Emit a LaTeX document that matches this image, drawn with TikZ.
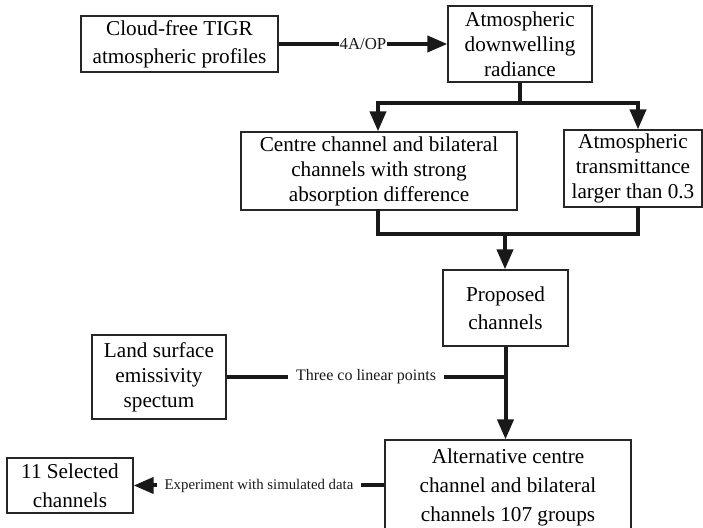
\documentclass[tikz,border=0pt]{standalone}
\usepackage{fontspec}
\setmainfont{Liberation Serif}
\usetikzlibrary{arrows.meta,positioning}
\tikzset{
  box/.style={draw=black!85,line width=0.65pt,fill=white,align=center,inner sep=0pt,font=\fontsize{10.6}{12.5}\selectfont},
  ln/.style={line width=2pt,black!90},
  bar/.style={ln,line cap=rect},
  ar/.style={ln,-{Triangle[length=10pt,width=8pt]}},
  lbl/.style={fill=white,inner xsep=4pt,inner ysep=1pt,font=\fontsize{8}{9}\selectfont}
}
\begin{document}
\begin{tikzpicture}[x=0.5pt,y=-0.5pt]
\clip (0,0) rectangle (703,528);
\node[box,minimum width=98.5pt,minimum height=28pt,font=\fontsize{10.6}{14}\selectfont] (prof) at (179.5,44) {Cloud-free TIGR\\atmospheric profiles};
\node[box,minimum width=72pt,minimum height=38pt] (rad) at (520,44) {Atmospheric\\downwelling\\radiance};
\node[box,minimum width=138pt,minimum height=39pt] (cen) at (379,171) {Centre channel and bilateral\\channels with strong\\absorption difference};
\node[box,minimum width=69pt,minimum height=38.5pt] (trans) at (633,168.5) {Atmospheric\\transmittance\\larger than 0.3};
\node[box,minimum width=62.5pt,minimum height=38pt,font=\fontsize{10.6}{14}\selectfont] (prop) at (505.5,308) {Proposed\\channels};
\node[box,minimum width=67pt,minimum height=42pt] (land) at (159,377) {Land surface\\emissivity\\spectum};
\node[box,minimum width=123pt,minimum height=47pt,font=\fontsize{10.6}{14.5}\selectfont] (alt) at (508,487) {Alternative centre\\channel and bilateral\\ channels 107 groups};
\node[box,minimum width=63pt,minimum height=27.5pt,font=\fontsize{10.6}{14.5}\selectfont] (sel) at (70,485.5) {11 Selected\\channels};
% split and merge points
\coordinate (bl) at (378,103);
\coordinate (br) at (638,103);
\coordinate (ml) at (378,234);
\coordinate (mr) at (638,234);
\coordinate (mm) at (505,234);
\coordinate (jn) at (prop.south |- land.east);
\draw[ar] (prof.east) -- node[lbl,inner xsep=0.5pt,font=\fontsize{8.4}{9}\selectfont] {4A/OP} (rad.west);
\draw[ln] (rad.south) -- (rad.south |- bl);
\draw[bar] (bl) -- (br);
\draw[ar] (bl) -- (bl |- cen.north);
\draw[ar] (br) -- (br |- trans.north);
\draw[bar] (ml |- cen.south) -- (ml) -- (mr) -- (mr |- trans.south);
\draw[ar] (mm) -- (mm |- prop.north);
\draw[ar] (prop.south) -- (prop.south |- alt.north);
\draw[ln] (land.east) -- node[lbl] {Three co linear points} (jn);
\draw[ar] (alt.west |- sel.east) -- node[lbl,font=\fontsize{7.4}{9}\selectfont] {Experiment with simulated data} (sel.east);
\end{tikzpicture}
\end{document}
